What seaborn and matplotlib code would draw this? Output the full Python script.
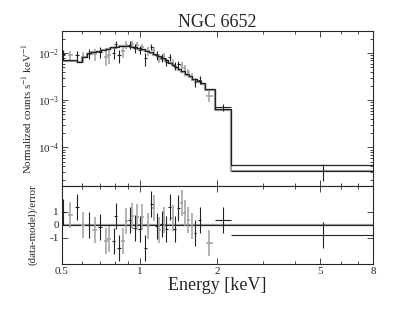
import numpy as np
import pandas as pd
import matplotlib
matplotlib.use("Agg")
import matplotlib.pyplot as plt
import seaborn as sns
from matplotlib.ticker import FixedLocator, NullFormatter, LogLocator

# model step function (edges in keV, values in counts/s/keV)
model_edges = [0.5, 0.57, 0.60, 0.625, 0.65, 0.68, 0.71, 0.74, 0.77, 0.80, 0.83, 0.86,
               0.89, 0.92, 0.95, 0.98, 1.01, 1.05, 1.09, 1.13, 1.17, 1.21, 1.25, 1.29,
               1.33, 1.37, 1.41, 1.45, 1.50, 1.55, 1.60, 1.66, 1.72, 1.79, 1.96, 2.26, 8.0]
model_black = [7.2e-3, 6.6e-3, 8.4e-3, 1.0e-2, 1.05e-2, 1.1e-2, 1.17e-2, 1.25e-2, 1.32e-2,
               1.38e-2, 1.42e-2, 1.43e-2, 1.42e-2, 1.38e-2, 1.33e-2, 1.27e-2, 1.2e-2,
               1.12e-2, 1.03e-2, 9.4e-3, 8.6e-3, 7.8e-3, 7.0e-3, 6.3e-3, 5.7e-3, 5.1e-3,
               4.6e-3, 4.1e-3, 3.6e-3, 3.2e-3, 2.8e-3, 2.5e-3, 2.3e-3, 1.72e-3, 6.6e-4, 4.2e-5]
model_gray = [6.9e-3, 6.4e-3, 8.2e-3, 9.8e-3, 1.03e-2, 1.08e-2, 1.15e-2, 1.23e-2, 1.3e-2,
              1.36e-2, 1.4e-2, 1.41e-2, 1.4e-2, 1.36e-2, 1.31e-2, 1.25e-2, 1.18e-2,
              1.1e-2, 1.01e-2, 9.2e-3, 8.4e-3, 7.6e-3, 6.8e-3, 6.1e-3, 5.5e-3, 4.9e-3,
              4.4e-3, 3.9e-3, 3.45e-3, 3.05e-3, 2.7e-3, 2.4e-3, 2.2e-3, 1.65e-3, 6.1e-4, 3.2e-5]

# black data set
e_black = [0.504, 0.572, 0.637, 0.700, 0.794, 0.808, 0.832, 0.915, 0.957, 1.000, 1.050,
           1.111, 1.162, 1.215, 1.270, 1.309, 1.369, 1.410, 1.636, 1.711, 2.096, 5.12]
elo_black = [0.004, 0.012, 0.012, 0.012, 0.012, 0.012, 0.012, 0.013, 0.013, 0.014, 0.015,
             0.015, 0.016, 0.016, 0.017, 0.017, 0.018, 0.018, 0.02, 0.022, 0.136, 2.86]
ehi_black = [0.012, 0.012, 0.012, 0.012, 0.012, 0.012, 0.012, 0.013, 0.013, 0.014, 0.015,
             0.015, 0.016, 0.016, 0.017, 0.017, 0.018, 0.018, 0.02, 0.022, 0.164, 2.88]
f_black = [9.4e-3, 9.3e-3, 1.0e-2, 1.06e-2, 1.0e-2, 1.57e-2, 9.1e-3, 1.52e-2, 1.26e-2,
           1.19e-2, 7.7e-3, 1.36e-2, 9.2e-3, 7.96e-3, 6.6e-3, 8.1e-3, 5.4e-3, 5.8e-3,
           2.46e-3, 2.7e-3, 7.1e-4, 3.2e-5]
ferr_black = [2.2e-3, 2.0e-3, 2.5e-3, 2.7e-3, 2.6e-3, 2.8e-3, 2.8e-3, 2.8e-3, 2.7e-3,
              2.5e-3, 2.4e-3, 2.1e-3, 1.9e-3, 1.6e-3, 1.4e-3, 1.3e-3, 1.1e-3, 0.92e-3,
              0.56e-3, 0.5e-3, 1.3e-4, 1.25e-5]
r_black = [1.0, 1.35, 0.0, -0.15, -1.2, 0.7, -1.8, 0.35, -0.25, -0.3, -1.8, 1.6, -0.1,
           0.1, -0.3, 1.4, -0.3, 1.3, -0.6, 0.4, 0.35, -0.8]

# gray data set
e_gray = [0.539, 0.603, 0.669, 0.739, 0.761, 0.862, 0.889, 0.937, 0.977, 1.025, 1.079,
          1.134, 1.190, 1.240, 1.340, 1.452, 1.496, 1.542, 1.589, 1.860]
ehw_gray = [0.012, 0.012, 0.012, 0.012, 0.012, 0.012, 0.013, 0.013, 0.014, 0.014, 0.015,
            0.015, 0.016, 0.016, 0.017, 0.018, 0.019, 0.019, 0.02, 0.06]
f_gray = [8.9e-3, 8.4e-3, 9.45e-3, 8.2e-3, 9.1e-3, 1.09e-2, 1.52e-2, 1.57e-2, 1.49e-2,
          1.34e-2, 1.10e-2, 1.18e-2, 7.9e-3, 8.4e-3, 6.3e-3, 5.5e-3, 4.84e-3, 3.9e-3,
          3.14e-3, 1.24e-3]
ferr_gray = [2.2e-3, 2.1e-3, 2.6e-3, 2.9e-3, 3.1e-3, 2.9e-3, 2.9e-3, 2.8e-3, 2.7e-3,
             2.4e-3, 2.2e-3, 1.9e-3, 1.7e-3, 1.6e-3, 1.1e-3, 0.82e-3, 0.8e-3, 0.72e-3,
             0.64e-3, 0.34e-3]
r_gray = [0.8, 0.0, -0.4, -1.2, -1.1, -1.2, 0.3, 0.7, 0.6, 0.6, -0.1, 1.3, -0.4, 0.4,
          0.5, 1.7, 0.9, 0.4, -0.1, -1.4]

sns.set_style("ticks")
plt.rcParams['font.family'] = ['Liberation Serif', 'DejaVu Serif']
plt.rcParams['mathtext.fontset'] = 'stix'
plt.rcParams['xtick.direction'] = 'in'
plt.rcParams['ytick.direction'] = 'in'

black = "#222222"
gray = "#a0a0a0"

fig = plt.figure(figsize=(4.15, 3.12), dpi=100)
ax1 = fig.add_axes([0.149, 0.404, 0.750, 0.497])
ax2 = fig.add_axes([0.149, 0.154, 0.750, 0.250], sharex=ax1)

mb = pd.DataFrame({"E": model_edges, "m": model_black + [model_black[-1]]})
mg = pd.DataFrame({"E": model_edges, "m": model_gray + [model_gray[-1]]})

ax1.errorbar(e_gray, f_gray, yerr=ferr_gray, xerr=ehw_gray, fmt="none",
             ecolor=gray, elinewidth=1.1, capsize=0)
sns.lineplot(data=mg, x="E", y="m", drawstyle="steps-post", color=gray, lw=1.6, ax=ax1)
sns.lineplot(data=mb, x="E", y="m", drawstyle="steps-post", color=black, lw=0.9, ax=ax1)
ax1.errorbar(e_black, f_black, yerr=ferr_black, xerr=[elo_black, ehi_black], fmt="none",
             ecolor=black, elinewidth=0.8, capsize=0)

ax2.axhline(0, color=gray, lw=1.6)
ax2.axhline(0, color=black, lw=0.8)
ax2.errorbar(e_gray, r_gray, yerr=1, xerr=ehw_gray, fmt="none",
             ecolor=gray, elinewidth=1.1, capsize=0)
ax2.errorbar(e_black, r_black, yerr=1, xerr=[elo_black, ehi_black], fmt="none",
             ecolor=black, elinewidth=0.8, capsize=0)

ax1.set_xscale("log")
ax1.set_yscale("log")
ax1.set_xlim(0.5, 8)
ax1.set_ylim(1.52e-5, 2.96e-2)
ax2.set_ylim(-3.0, 3.0)

ax1.set_xlabel("")
ax1.set_ylabel("Normalized counts s$^{-1}$ keV$^{-1}$", fontsize=7.8, labelpad=3)
ax1.set_title("NGC 6652", fontsize=13, pad=2)
ax1.tick_params(axis="x", which="both", labelbottom=False)
ax1.yaxis.set_major_locator(FixedLocator([1e-4, 1e-3, 1e-2]))
ax1.yaxis.set_minor_locator(LogLocator(base=10, subs=np.arange(2, 10)))
ax1.yaxis.set_minor_formatter(NullFormatter())

ax2.set_xticks([0.5, 1, 2, 5, 8])
ax2.set_xticklabels(["0.5", "1", "2", "5", "8"])
ax2.xaxis.set_minor_locator(FixedLocator([0.6, 0.7, 0.8, 0.9, 3, 4, 6, 7]))
ax2.xaxis.set_minor_formatter(NullFormatter())
ax2.set_yticks([-1, 0, 1])
ax2.set_yticklabels(["-1", "0", "1"])
ax2.set_xlabel("Energy [keV]", fontsize=13, labelpad=1)
ax2.set_ylabel("(data-model)/error", fontsize=7.8, labelpad=9)

for ax in (ax1, ax2):
    ax.tick_params(which="both", top=True, right=True, labelsize=8, width=0.6, pad=2)
    ax.tick_params(which="major", length=4)
    ax.tick_params(which="minor", length=2)
    for s in ax.spines.values():
        s.set_linewidth(0.8)

fig.savefig("out.png", dpi=100)
